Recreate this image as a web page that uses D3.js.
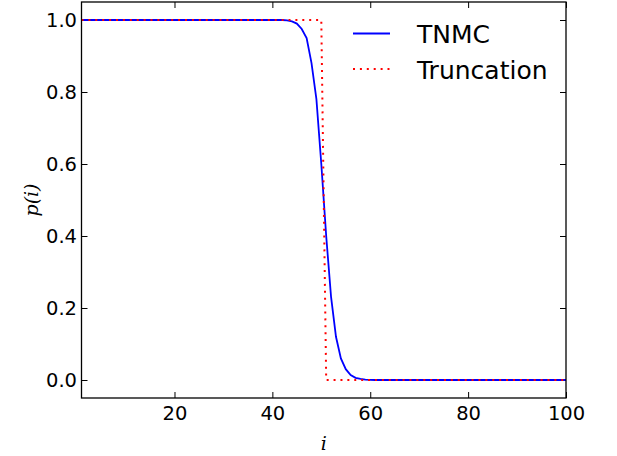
<!DOCTYPE html>
<html>
<head>
<meta charset="utf-8">
<script src="https://cdn.jsdelivr.net/npm/d3@7"></script>
<style>
  body { margin: 0; background: #fff; }
  svg { display: block; }
</style>
</head>
<body>
<div id="chart"></div>
<script>
// series values, index i = 1..100
const idx = d3.range(1, 101);
const tnmcHead = [0.999, 0.996, 0.99, 0.975, 0.95, 0.88, 0.78, 0.60, 0.40, 0.23,
  0.12, 0.06, 0.03, 0.014, 0.006, 0.003, 0.001, 0.0005];   // i = 43..60
const tnmc = idx.map(i => i < 43 ? 1 : (i <= 60 ? tnmcHead[i - 43] : 0));
const truncation = idx.map(i => i <= 50 ? 1 : 0);
const xTicks = [20, 40, 60, 80, 100];
const yTicks = [0, 0.2, 0.4, 0.6, 0.8, 1.0];
const seriesNames = ["TNMC", "Truncation"];

const W = 617, H = 456;
const m = { left: 81.5, top: 2, right: 51, bottom: 58 };
const w = W - m.left - m.right, h = H - m.top - m.bottom;

const svg = d3.select("#chart").append("svg").attr("width", W).attr("height", H);
const g = svg.append("g").attr("transform", `translate(${m.left},${m.top})`);

const x = d3.scaleLinear().domain([1, 100]).range([0, w]);
const y = d3.scaleLinear().domain([-0.05, 1.05]).range([h, 0]);

const font = "DejaVu Sans";

// axes, ticks pointing inward on all sides
g.append("g").attr("transform", `translate(0,${h})`)
  .call(d3.axisBottom(x).tickValues(xTicks).tickSizeInner(-6).tickSizeOuter(0).tickPadding(8));
g.append("g")
  .call(d3.axisLeft(y).tickValues(yTicks).tickFormat(d3.format(".1f")).tickSizeInner(-6).tickSizeOuter(0).tickPadding(4.5));
g.append("g")
  .call(d3.axisTop(x).tickValues(xTicks).tickFormat("").tickSizeInner(-6).tickSizeOuter(0));
g.append("g").attr("transform", `translate(${w},0)`)
  .call(d3.axisRight(y).tickValues(yTicks).tickFormat("").tickSizeInner(-6).tickSizeOuter(0));

g.selectAll(".domain").remove();
g.selectAll(".tick line").attr("stroke", "#000").attr("stroke-width", 1);
g.selectAll(".tick text").attr("fill", "#000").style("font-family", font).style("font-size", "19.5px");

svg.append("defs").append("clipPath").attr("id", "clip")
  .append("rect").attr("width", w).attr("height", h);

const line = d3.line().x((d, k) => x(idx[k])).y(d => y(d));

const plot = g.append("g").attr("clip-path", "url(#clip)");
plot.append("path").datum(tnmc).attr("d", line)
  .attr("fill", "none").attr("stroke", "#0000ff").attr("stroke-width", 1.8);
plot.append("path").datum(truncation).attr("d", line)
  .attr("fill", "none").attr("stroke", "#ff0000").attr("stroke-width", 2)
  .attr("stroke-dasharray", "2 4.9");

// frame
g.append("rect").attr("width", w).attr("height", h)
  .attr("fill", "none").attr("stroke", "#000").attr("stroke-width", 1.3);

// axis labels
svg.append("text").attr("x", m.left + w / 2).attr("y", 450)
  .attr("text-anchor", "middle")
  .style("font-family", "DejaVu Serif").style("font-style", "italic").style("font-size", "19px")
  .text("i");
svg.append("text").attr("transform", "translate(38,200) rotate(-90)")
  .attr("text-anchor", "middle")
  .style("font-family", "DejaVu Serif").style("font-style", "italic").style("font-size", "19px")
  .text("p(i)");

// legend
const legend = svg.append("g");
const styles = [
  { stroke: "#0000ff", width: 1.8, dash: null },
  { stroke: "#ff0000", width: 2, dash: "2 4.9" }
];
seriesNames.forEach((name, k) => {
  const ly = 33.5 + k * 35.5;
  legend.append("line").attr("x1", 353).attr("x2", 390).attr("y1", ly).attr("y2", ly)
    .attr("stroke", styles[k].stroke).attr("stroke-width", styles[k].width)
    .attr("stroke-dasharray", styles[k].dash);
  legend.append("text").attr("x", 417).attr("y", ly + 9.5)
    .style("font-family", font).style("font-size", "25px").attr("fill", "#000")
    .text(name);
});
</script>
</body>
</html>
